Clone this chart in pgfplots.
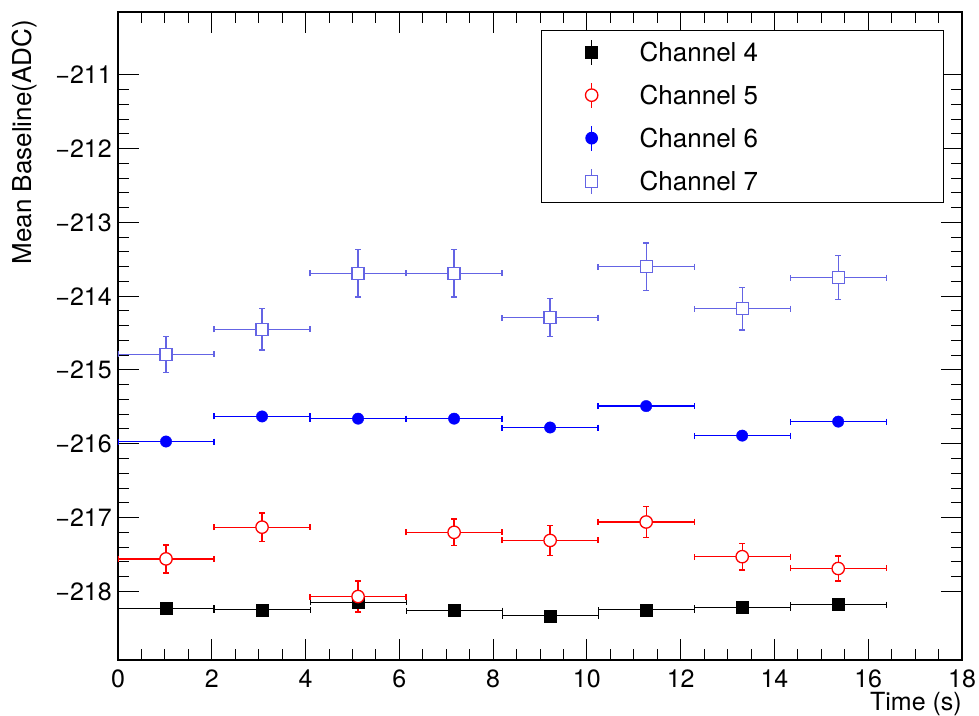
\documentclass[border=0pt]{standalone}
\usepackage{pgfplots}
\pgfplotsset{compat=1.18}
\usepackage{fontspec}
\setmainfont{TeX Gyre Heros}
\definecolor{chsev}{RGB}{100,100,228}
\definecolor{chred}{RGB}{255,0,0}
\definecolor{chblue}{RGB}{0,0,255}

\pgfplotsset{
  rootlegend/.style={
    legend image code/.code={
      \path[draw=none, fill=none] (-50bp,-21.5bp) rectangle (48bp,21.5bp);
      \draw[line width=1.3bp] (0bp,-12.5bp) -- (0bp,12.5bp);
      \draw plot coordinates {(0bp,0bp)};
    }
  }
}

\begin{document}
\begin{tikzpicture}[font=\fontsize{25bp}{30bp}\selectfont]
\useasboundingbox (-118bp,-56bp) rectangle (861bp,660bp);
\begin{axis}[
  scale only axis,
  width=844bp, height=648bp,
  xmin=0, xmax=18, ymin=-218.93, ymax=-210.15,
  xtick={0,2,...,18}, minor x tick num=3,
  ytick={-218,-217,-216,-215,-214,-213,-212,-211},
  yticklabels={−218,−217,−216,−215,−214,−213,−212,−211},
  minor y tick num=4,
  tick align=inside,
  xtick pos=both, ytick pos=both,
  major tick length=21bp, minor tick length=11bp,
  axis line style={line width=1.5bp},
  tick style={line width=1bp, black},
  xticklabel style={/pgf/number format/assume math mode=true, inner sep=0pt, yshift=-10bp},
  yticklabel style={inner sep=0pt, xshift=-6bp},
  xlabel={Time (s)},
  ylabel={Mean Baseline(ADC)},
  xlabel style={at={(rel axis cs:1,-0.0785)}, anchor=base east, inner sep=0pt},
  ylabel style={at={(rel axis cs:-0.1022,0.9877)}, anchor=base east, inner sep=0pt,
    font=\fontsize{26bp}{31bp}\selectfont},
  legend style={
    at={(rel axis cs:0.5012,0.9722)}, anchor=north west,
    draw=black, line width=1.3bp, fill=white,
    inner xsep=0pt, inner ysep=0pt, row sep=0pt,
    font=\fontsize{26bp}{31bp}\selectfont,
    nodes={inner sep=0pt},
    /tikz/every even column/.append style={column sep=0pt},
  },
  legend cell align=left,
  rootlegend,
  error bars/error bar style={line width=1.3bp},
  error bars/error mark options={rotate=90, mark size=3bp, line width=1.3bp},
]

% Channel 4
\addplot+[black, only marks, mark=square*, mark size=6bp,
  mark options={fill=black, draw=black},
  error bars/.cd, x dir=both, x explicit, y dir=both, y explicit,
  error bar style={line width=1.1bp},
  error mark options={rotate=90, mark size=3bp, line width=1.1bp}]
  coordinates {
  (1.024,-218.23) +- (1.024,0.02)
  (3.072,-218.25) +- (1.024,0.02)
  (5.120,-218.15) +- (1.024,0.02)
  (7.168,-218.26) +- (1.024,0.02)
  (9.216,-218.33) +- (1.024,0.02)
  (11.264,-218.25) +- (1.024,0.02)
  (13.312,-218.22) +- (1.024,0.02)
  (15.360,-218.18) +- (1.024,0.02)
  };
\addlegendentry{\makebox[304bp][l]{Channel 4}}

% Channel 5
\addplot+[chred, only marks, mark=*, mark size=6.2bp,
  mark options={fill=white, draw=chred, line width=1.3bp},
  error bars/.cd, x dir=both, x explicit, y dir=both, y explicit]
  coordinates {
  (1.024,-217.56) +- (1.024,0.19)
  (3.072,-217.13) +- (1.024,0.19)
  (5.120,-218.07) +- (1.024,0.21)
  (7.168,-217.20) +- (1.024,0.18)
  (9.216,-217.31) +- (1.024,0.20)
  (11.264,-217.06) +- (1.024,0.21)
  (13.312,-217.53) +- (1.024,0.18)
  (15.360,-217.69) +- (1.024,0.17)
  };
\addlegendentry{\makebox[304bp][l]{Channel 5}}

% Channel 6
\addplot+[chblue, only marks, mark=*, mark size=5.7bp,
  mark options={fill=chblue, draw=chblue},
  error bars/.cd, x dir=both, x explicit, y dir=both, y explicit]
  coordinates {
  (1.024,-215.97) +- (1.024,0.02)
  (3.072,-215.63) +- (1.024,0.02)
  (5.120,-215.66) +- (1.024,0.02)
  (7.168,-215.66) +- (1.024,0.02)
  (9.216,-215.78) +- (1.024,0.02)
  (11.264,-215.49) +- (1.024,0.02)
  (13.312,-215.89) +- (1.024,0.02)
  (15.360,-215.70) +- (1.024,0.02)
  };
\addlegendentry{\makebox[304bp][l]{Channel 6}}

% Channel 7
\addplot+[chsev, only marks, mark=square*, mark size=6bp,
  mark options={fill=white, draw=chsev, line width=1.3bp},
  error bars/.cd, x dir=both, x explicit, y dir=both, y explicit]
  coordinates {
  (1.024,-214.79) +- (1.024,0.24)
  (3.072,-214.45) +- (1.024,0.28)
  (5.120,-213.69) +- (1.024,0.32)
  (7.168,-213.69) +- (1.024,0.32)
  (9.216,-214.29) +- (1.024,0.26)
  (11.264,-213.60) +- (1.024,0.32)
  (13.312,-214.17) +- (1.024,0.29)
  (15.360,-213.75) +- (1.024,0.30)
  };
\addlegendentry{\makebox[304bp][l]{Channel 7}}

\end{axis}
\end{tikzpicture}
\end{document}
